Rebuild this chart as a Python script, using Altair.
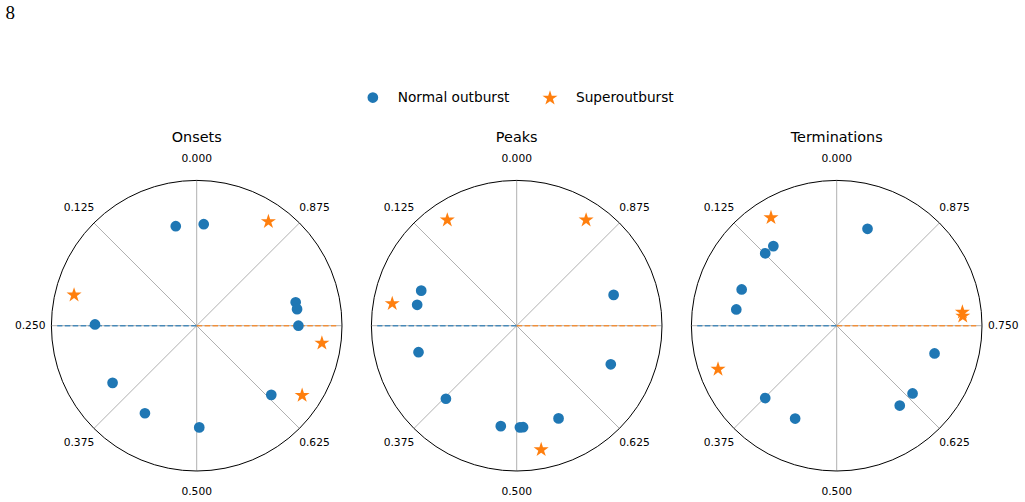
import altair as alt
import pandas as pd

# ---------------- data ----------------
PANELS = ["Onsets", "Peaks", "Terminations"]
TYPES = ["Normal outburst", "Superoutburst"]

# phases (0 at top, increasing counter-clockwise)
onsets_normal = [0.033, 0.989, 0.248, 0.787, 0.776, 0.750, 0.631, 0.345, 0.415, 0.504]
onsets_super = [0.904, 0.211, 0.728, 0.657]
peaks_normal = [0.194, 0.217, 0.292, 0.3775, 0.475, 0.505, 0.510, 0.5675, 0.688, 0.799]
peaks_super = [0.0925, 0.9075, 0.222, 0.531]
terms_normal = [0.951, 0.107, 0.124, 0.192, 0.2245, 0.376, 0.433, 0.6064, 0.634, 0.706]
terms_super = [0.087, 0.767, 0.762, 0.306]

# radial placement of each outburst type (circle edge = 1)
RADIUS = {"Normal outburst": 0.70, "Superoutburst": 0.87}

TICK_PHASES = [0.0, 0.125, 0.25, 0.375, 0.5, 0.625, 0.75, 0.875]
TICK_LABELS = ["0.000", "0.125", "0.250", "0.375", "0.500", "0.625", "0.750", "0.875"]
HIDDEN_LABELS = {"Onsets": ["0.750"], "Peaks": ["0.250", "0.750"], "Terminations": ["0.250"]}

REF_PHASES = [0.25, 0.75]
REF_TYPES = ["Normal outburst", "Superoutburst"]
REF_LENGTH = 0.96

PAGE_LABEL = "8"

# ---------------- layout / style constants ----------------
W, H = 1025, 502
X0, DX, CY, R = 196.7, 320.0, 325.7, 145.3
BLUE, ORANGE = "#1f77b4", "#ff7f0e"
STAR = ("M0,-1L0.2245,-0.309L0.9511,-0.309L0.3633,0.118L0.5878,0.809L0,0.382"
        "L-0.5878,0.809L-0.3633,0.118L-0.9511,-0.309L-0.2245,-0.309Z")

series = {
    ("Onsets", "Normal outburst"): onsets_normal,
    ("Onsets", "Superoutburst"): onsets_super,
    ("Peaks", "Normal outburst"): peaks_normal,
    ("Peaks", "Superoutburst"): peaks_super,
    ("Terminations", "Normal outburst"): terms_normal,
    ("Terminations", "Superoutburst"): terms_super,
}
rows = []
for (panel, typ), phases in series.items():
    for ph in phases:
        rows.append({"panel": panel, "idx": PANELS.index(panel), "type": typ,
                     "phase": ph, "r": RADIUS[typ]})
points_df = pd.DataFrame(rows)

spokes_df = pd.DataFrame([{"idx": i, "phase": ph} for i in range(len(PANELS)) for ph in TICK_PHASES])
ring_df = pd.DataFrame([{"idx": i} for i in range(len(PANELS))])
ref_df = pd.DataFrame([{"idx": i, "phase": ph, "type": t, "r": REF_LENGTH}
                       for i in range(len(PANELS)) for ph, t in zip(REF_PHASES, REF_TYPES)])
lab_rows = []
for i, p in enumerate(PANELS):
    for ph, lab in zip(TICK_PHASES, TICK_LABELS):
        if lab not in HIDDEN_LABELS[p]:
            lab_rows.append({"idx": i, "phase": ph, "label": lab, "r": 1.146})
labels_df = pd.DataFrame(lab_rows)
titles_df = pd.DataFrame([{"idx": i, "title": p} for i, p in enumerate(PANELS)])
page_df = pd.DataFrame([{"t": PAGE_LABEL}])

xs = alt.Scale(domain=[0, W], nice=False, zero=False)
ys = alt.Scale(domain=[0, H], nice=False, zero=False, reverse=True)

CXE = f"{X0} + {DX}*datum.idx"
PX = f"{CXE} - {R}*datum.r*sin(2*PI*datum.phase)"
PY = f"{CY} - {R}*datum.r*cos(2*PI*datum.phase)"

X = lambda f: alt.X(f"{f}:Q", scale=xs, axis=None)
Y = lambda f: alt.Y(f"{f}:Q", scale=ys, axis=None)

legend = alt.Legend(orient="none", legendX=366, legendY=90, direction="horizontal", title=None,
                    labelFont="DejaVu Sans", labelFontSize=13.7, labelColor="black",
                    symbolOpacity=1, symbolStrokeWidth=0, labelOffset=18,
                    columnPadding=32, padding=0)
color_scale = alt.Scale(domain=TYPES, range=[BLUE, ORANGE])

spokes = alt.Chart(spokes_df).mark_rule(color="#b0b0b0", strokeWidth=1).transform_calculate(
    r="1", cx=CXE, cy=str(CY)
).transform_calculate(px=PX, py=PY).encode(
    x=X("cx"), y=Y("cy"), x2="px:Q", y2="py:Q"
)

refs = alt.Chart(ref_df).mark_rule(strokeWidth=1.5, strokeDash=[5.5, 2.4], opacity=0.75).transform_calculate(
    cx=CXE, cy=str(CY)
).transform_calculate(px=PX, py=PY).encode(
    x=X("cx"), y=Y("cy"), x2="px:Q", y2="py:Q",
    color=alt.Color("type:N", scale=color_scale, legend=legend),
)

pts = alt.Chart(points_df).mark_point(filled=True, opacity=1, strokeWidth=0).transform_calculate(
    px=PX, py=PY
).encode(
    x=X("px"), y=Y("py"),
    color=alt.Color("type:N", scale=color_scale, legend=legend),
    shape=alt.Shape("type:N", scale=alt.Scale(domain=TYPES, range=["circle", STAR]), legend=legend),
    size=alt.Size("type:N", scale=alt.Scale(domain=TYPES, range=[115, 250]), legend=legend),
)

ring = alt.Chart(ring_df).mark_point(shape="circle", filled=False, stroke="black", strokeWidth=1,
                                     opacity=1, size=(2 * R) ** 2).transform_calculate(
    cx=CXE, cy=str(CY)
).encode(x=X("cx"), y=Y("cy"))

labels = alt.Chart(labels_df).mark_text(font="DejaVu Sans", fontSize=10.7, color="black",
                                        align="center", baseline="middle").transform_calculate(
    px=PX, py=PY
).encode(x=X("px"), y=Y("py"), text="label:N")

titles = alt.Chart(titles_df).mark_text(font="DejaVu Sans", fontSize=14.4, color="black",
                                        align="center", baseline="alphabetic").transform_calculate(
    cx=CXE, ty="141.7"
).encode(x=X("cx"), y=Y("ty"), text="title:N")

page = alt.Chart(page_df).mark_text(font="Liberation Serif", fontSize=19, color="black",
                                    align="left", baseline="alphabetic").transform_calculate(
    tx="5.5", ty="19.3"
).encode(x=X("tx"), y=Y("ty"), text="t:N")

chart = alt.layer(spokes, refs, pts, ring, labels, titles, page).properties(
    width=W, height=H, autosize=alt.AutoSizeParams(type="none"), padding=0
).configure_view(stroke=None).resolve_scale(color="shared")

chart.save("out.html", embed_options={"renderer": "svg", "actions": False})
